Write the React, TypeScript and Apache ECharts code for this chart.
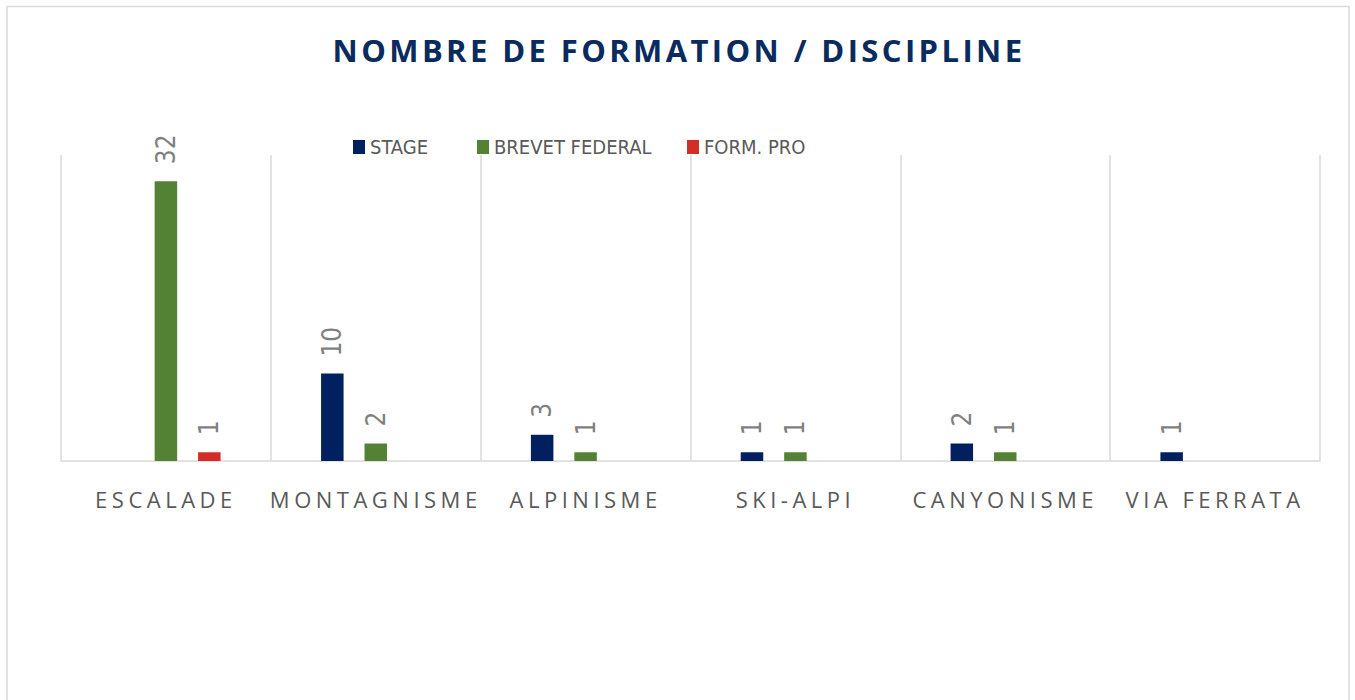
import React, { useEffect, useRef } from "react";
import * as echarts from "echarts";

const TITLE = "NOMBRE DE FORMATION / DISCIPLINE";
const categories = ["ESCALADE", "MONTAGNISME", "ALPINISME", "SKI-ALPI", "CANYONISME", "VIA FERRATA"];
const seriesNames = ["STAGE", "BREVET FEDERAL", "FORM. PRO"];
const stageValues: (number | null)[] = [null, 10, 3, 1, 2, 1];
const brevetValues: (number | null)[] = [32, 2, 1, 1, 1, null];
const proValues: (number | null)[] = [1, null, null, null, null, null];
const colors = ["#002060", "#548235", "#d22d27"];
const yMax = 35;

const NARROW = "'Liberation Sans Narrow', 'DejaVu Sans Condensed', 'Arial Narrow', sans-serif";
const OPEN = "'Open Sans', 'Noto Sans', sans-serif";
const legendLefts = [348, 472, 682];

export default function App() {
  const ref = useRef<HTMLDivElement>(null);

  useEffect(() => {
    document.body.style.margin = "0";
    if (!ref.current) return;
    const chart = echarts.init(ref.current, undefined, { renderer: "svg" });

    const barLabel = {
      show: true,
      position: "top",
      rotate: 90,
      align: "left",
      verticalAlign: "middle",
      distance: 17,
      color: "#7f7f7f",
      fontSize: 26,
      fontFamily: NARROW,
    };

    const values = [stageValues, brevetValues, proValues];

    chart.setOption({
      animation: false,
      backgroundColor: "#ffffff",
      graphic: [
        {
          type: "rect",
          shape: { x: 7, y: 6.5, width: 1342, height: 800 },
          style: { fill: "none", stroke: "#d9d9d9", lineWidth: 1.5 },
          silent: true,
        },
        {
          type: "text",
          x: 679,
          y: 50,
          style: {
            text: TITLE,
            fill: "#0a2b5e",
            font: `bold 31px ${OPEN}`,
            textAlign: "center",
            textVerticalAlign: "middle",
          },
        },
      ],
      legend: seriesNames.map((name, i) => ({
        left: legendLefts[i],
        top: 132,
        itemWidth: 12,
        itemHeight: 14,
        icon: "rect",
        data: [name],
        textStyle: { color: "#595959", fontSize: 20, fontFamily: NARROW },
      })),
      grid: { left: 61, right: 35, top: 155, bottom: 239, outerBoundsMode: "none" },
      xAxis: {
        type: "category",
        data: categories,
        axisLine: { lineStyle: { color: "#d9d9d9", width: 1.5 } },
        axisTick: { show: false },
        splitLine: { show: true, lineStyle: { color: "#d9d9d9", width: 1.5 } },
        axisLabel: {
          interval: 0,
          margin: 27,
          color: "#595959",
          fontSize: 22,
          fontFamily: OPEN,
        },
      },
      yAxis: {
        type: "value",
        min: 0,
        max: yMax,
        show: false,
        splitLine: { show: false },
      },
      series: seriesNames.map((name, i) => ({
        name,
        type: "bar",
        data: values[i],
        barWidth: 22.5,
        barGap: "93%",
        itemStyle: { color: colors[i] },
        label: barLabel,
      })),
    });

    const applySpacing = () => {
      const root = ref.current;
      if (!root) return;
      root.querySelectorAll("text").forEach((t) => {
        const s = (t.textContent || "").trim();
        if (s === TITLE) t.setAttribute("letter-spacing", "3.4");
        else if (categories.includes(s)) t.setAttribute("letter-spacing", "4.5");
      });
    };
    applySpacing();
    chart.on("finished", applySpacing);
    const timer = window.setTimeout(applySpacing, 50);

    return () => {
      window.clearTimeout(timer);
      chart.dispose();
    };
  }, []);

  return <div ref={ref} style={{ width: 1355, height: 700 }} />;
}
